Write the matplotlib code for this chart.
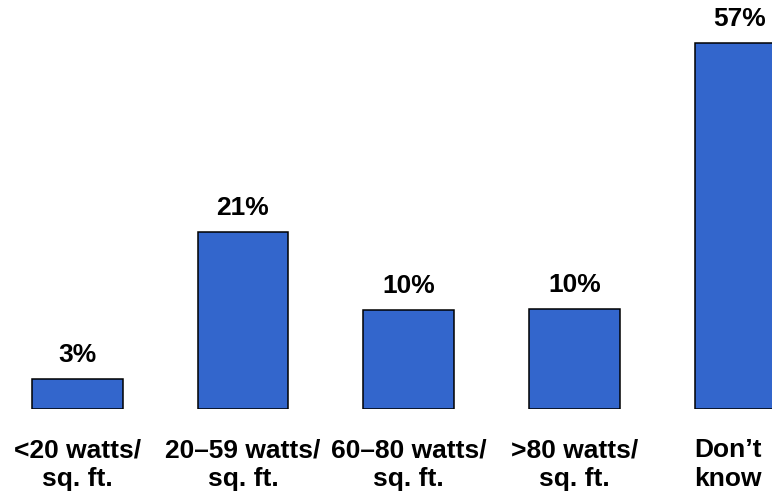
import matplotlib
matplotlib.use("Agg")
import matplotlib.pyplot as plt
from matplotlib.transforms import ScaledTranslation

categories = ["<20 watts/\nsq. ft.", "20\u201359 watts/\nsq. ft.", "60\u201380 watts/\nsq. ft.",
              ">80 watts/\nsq. ft.", "Don\u2019t\nknow"]
shares = [3, 21, 10, 10, 57]
# the original bars are not drawn to scale, so heights are read off the picture
bar_heights = [4.7, 27.6, 15.4, 15.6, 57]

BLUE = "#3366CC"

fig = plt.figure(figsize=(7.72, 4.96), dpi=100)
ax = fig.add_axes([0, 87 / 496, 1, 409 / 496])

x = list(range(len(categories)))
bars = ax.bar(x, bar_heights, width=0.549, color=BLUE, edgecolor="black", linewidth=1.1)

for xi, h, s in zip(x, bar_heights, shares):
    ax.annotate(f"{s}%", (xi, h), xytext=(0, 12), textcoords="offset points",
                ha="center", va="baseline", fontsize=19, fontweight="bold",
                family="Liberation Sans")

ax.set_xlim(-0.4665, 4.1926)
ax.set_ylim(0, 63.7)
ax.set_xticks(x)
ax.set_xticklabels(categories, fontsize=19, fontweight="bold", family="Liberation Sans",
                   linespacing=1.23)
ax.tick_params(axis="x", length=0, pad=21)
ax.set_yticks([])
for sp in ax.spines.values():
    sp.set_visible(False)

# last label sits a little left of its bar so it stays inside the figure
last = ax.get_xticklabels()[-1]
last.set_transform(last.get_transform() + ScaledTranslation(-9 / 72, 0, fig.dpi_scale_trans))

fig.savefig("out.png", dpi=100)
